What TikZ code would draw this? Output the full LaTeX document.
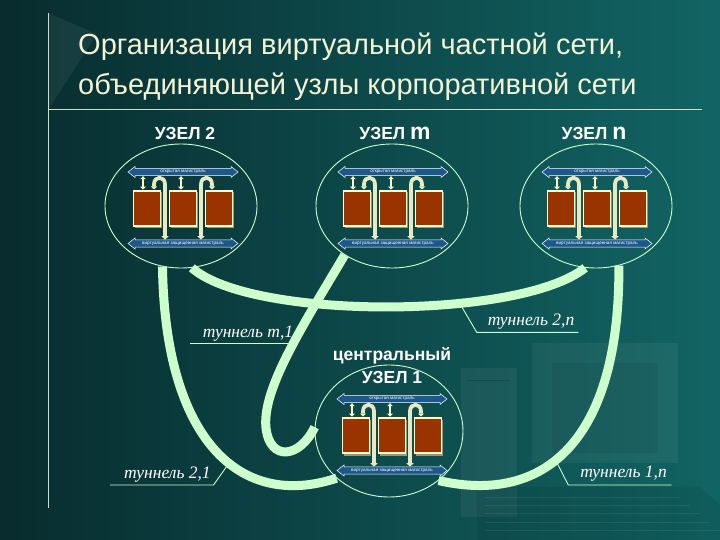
\documentclass[tikz,border=0pt]{standalone}
\usepackage{fontspec}
\setmainfont{Liberation Serif}
\newfontfamily\sansf{Liberation Sans}
\usetikzlibrary{shapes.geometric,arrows.meta}
\definecolor{bgA}{RGB}{8,44,46}
\definecolor{bgB}{RGB}{18,100,100}
\definecolor{mint}{RGB}{204,255,204}
\definecolor{titlec}{RGB}{242,242,212}
\definecolor{brick}{RGB}{153,51,0}
\definecolor{creamc}{RGB}{255,255,204}
\definecolor{barblue}{RGB}{28,88,140}
\definecolor{hookc}{RGB}{230,234,196}
\definecolor{shadowc}{RGB}{150,150,120}
\tikzset{
 unit/.style={ellipse, draw=mint, line width=0.9pt, minimum width=152pt, minimum height=124pt, inner sep=0pt},
 tunnel/.style={draw=mint, line width=9pt},
 tunlbl/.style={text=white, font=\itshape\fontsize{17.5}{18}\selectfont, inner sep=0pt},
 callout/.style={draw=mint, line width=0.9pt},
 lbl/.style={text=white, font=\sansf\bfseries\fontsize{17.5}{18}\selectfont, inner sep=0pt},
 titlest/.style={text=titlec, font=\sansf\fontsize{29}{32}\selectfont, inner sep=0pt},
 barst/.style={fill=barblue, draw=white, line width=0.5pt},
 bartxt/.style={text=white, font=\sansf\fontsize{4.6}{5}\selectfont, inner sep=0pt},
 boxst/.style={fill=brick, draw=creamc, line width=1.4pt},
 iarr/.style={draw=creamc, line width=2.2pt, {Triangle[length=3pt,width=5.5pt]}-{Triangle[length=3pt,width=5.5pt]}},
 hookst/.style={draw=hookc, line width=3.8pt, {Triangle[length=3pt,width=6pt]}-{Triangle[length=3.5pt,width=7pt]}},
}
\newcommand{\vpnbar}[3]{%
 \filldraw[barst, shift={(0,#2)}] (-55,0) -- (-48,-5.5) -- (-48,-3.6) -- (48,-3.6) -- (48,-5.5) -- (55,0) -- (48,5.5) -- (48,3.6) -- (-48,3.6) -- (-48,5.5) -- cycle;
 \node[bartxt] (#1) at (0,#2) {#3};}
\newcommand{\vpnunit}[3]{%
 \begin{scope}[shift={(#2,#3)}]
  \foreach \bx in {-36,0,36} {
   \fill[shadowc] (\bx-12,-16) rectangle (\bx+14.5,20);
   \filldraw[boxst] (\bx-13.5,-17.5) rectangle (\bx+13.5,17.5);
  }
  \vpnbar{#1top}{-36.5}{открытая магистраль}
  \vpnbar{#1bot}{35}{виртуальная защищенная магистраль}
  \draw[iarr] (-40,-32.3) -- (-40,-18.8);
  \draw[iarr] (-2,-32.3) -- (-2,-18.8);
  \draw[hookst] (-29,-19) -- (-29,-24) .. controls (-29,-33) and (-18,-33) .. (-18,-24) -- (-18,31.2);
  \draw[hookst] (29,-19) -- (29,-24) .. controls (29,-33) and (18,-33) .. (18,-24) -- (18,31.2);
 \end{scope}}
\begin{document}
\begin{tikzpicture}[x=1pt,y=-1pt]
\useasboundingbox (0,0) rectangle (720,540);
\shade[left color=bgA, right color=bgB] (0,0) rectangle (720,540);
% faint background computer
\fill[white, opacity=0.05] (532,343) rectangle (678,463);
\fill[black, opacity=0.05] (552,363) rectangle (658,453);
\fill[white, opacity=0.05] (461,368) rectangle (517,517);
\draw[black, opacity=0.18, line width=1pt] (467,380) -- (510,380);
\fill[black, opacity=0.08] (476,487) -- (700,487) -- (720,505) -- (720,540) -- (478,540) -- cycle;
\foreach \yy/\xr in {497/680,505/690,513/700,522/710,530/720}
  \draw[white, opacity=0.07, line width=1pt] (485,\yy) -- (\xr,\yy);
% title decoration
\fill[white, opacity=0.06] (48,13) -- (97,34) -- (48,110) -- cycle;
\draw[titlec!85!bgB, line width=1pt] (48,13) -- (48,508);
\draw[titlec!85!bgB, line width=1pt] (48,110) -- (702,110);
\node[titlest, anchor=base west] (title1) at (78,55) {Организация виртуальной частной сети,};
\node[titlest, anchor=base west] (title2) at (78,95) {объединяющей узлы корпоративной сети};
% node labels
\node[lbl, anchor=base] (l2) at (185,140) {УЗЕЛ 2};
\node[lbl, anchor=base] (lm) at (395,140) {УЗЕЛ {\fontsize{23}{23}\selectfont m}};
\node[lbl, anchor=base] (ln) at (594,140) {УЗЕЛ {\fontsize{23}{23}\selectfont n}};
\node[lbl, anchor=base] (lc1) at (392,360) {центральный};
\node[lbl, anchor=base] (lc2) at (392,383) {УЗЕЛ 1};
% units
\node[unit] (n2) at (181,206) {};
\node[unit] (nm) at (392,206) {};
\node[unit] (nn) at (596,206) {};
\node[unit, minimum width=148pt, minimum height=132pt] (n1) at (389,431) {};
% tunnels
\coordinate (hk) at (266,428);
\draw[tunnel] (n2.-80) .. controls (250,320) and (520,320) .. (nn.-100);
\draw[tunnel] (n2.-107) .. controls (165,440) and (240,510) .. (n1.222);
\draw[tunnel] (nn.-69) .. controls (620,440) and (545,505) .. (n1.-45);
\draw[tunnel] (nm.226) .. controls (300,330) and (262,390) .. (hk) .. controls (270,462) and (300,458) .. (n1.177);
% unit contents
\vpnunit{a}{183}{208.5}
\vpnunit{b}{393}{208.5}
\vpnunit{c}{597}{208.5}
\vpnunit{d}{392}{435.5}
% tunnel labels
\node[tunlbl, anchor=base] (tm1) at (248,337) {туннель m,1};
\node[tunlbl, anchor=base] (t2n) at (531,325) {туннель 2,n};
\node[tunlbl, anchor=base] (t21) at (167.5,478) {туннель 2,1};
\node[tunlbl, anchor=base] (t1n) at (623.5,477) {туннель 1,n};
\coordinate (tm1a) at (190,343); \coordinate (tm1b) at (292,343);
\coordinate (t2na) at (578.3,332.3); \coordinate (t2nb) at (476.7,332.3); \coordinate (t2nc) at (461.7,306.7);
\coordinate (t21a) at (110,485); \coordinate (t21b) at (213.5,485); \coordinate (t21c) at (227,466);
\coordinate (t1na) at (671.7,485); \coordinate (t1nb) at (568.3,485); \coordinate (t1nc) at (556.7,462.3);
\draw[callout] (tm1a) -- (tm1b);
\draw[callout] (t2na) -- (t2nb) -- (t2nc);
\draw[callout] (t21a) -- (t21b) -- (t21c);
\draw[callout] (t1na) -- (t1nb) -- (t1nc);
\end{tikzpicture}
\end{document}
